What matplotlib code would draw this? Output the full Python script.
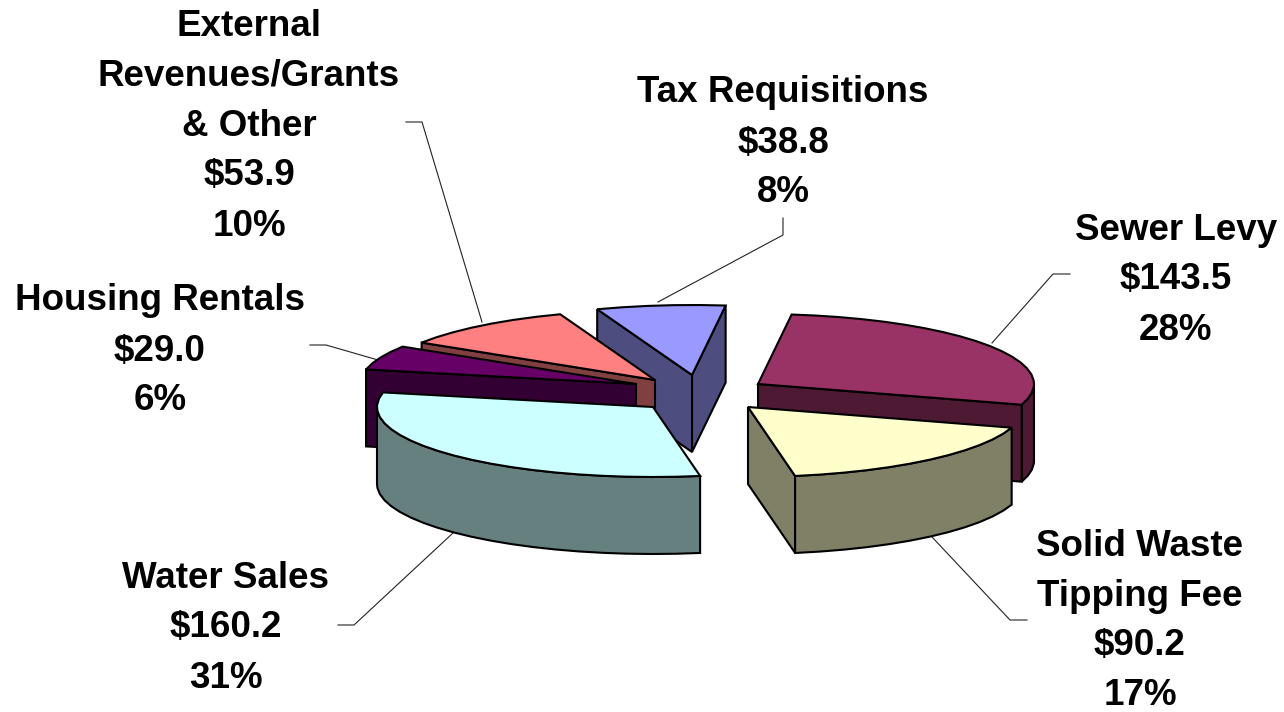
import numpy as np
import matplotlib
matplotlib.use("Agg")
import matplotlib.pyplot as plt

plt.rcParams['font.family'] = ['Liberation Sans', 'DejaVu Sans']

### data, clockwise from the top right
categories = ["Sewer Levy", "Solid Waste\nTipping Fee", "Water Sales", "Housing Rentals",
              "External\nRevenues/Grants\n& Other", "Tax Requisitions"]
amounts = [143.5, 90.2, 160.2, 29.0, 53.9, 38.8]
percents = [28, 17, 31, 6, 10, 8]
top_colors = ["#993366", "#FFFFCC", "#CCFFFF", "#660066", "#FF8080", "#9999FF"]
side_colors = ["#4D1933", "#808066", "#668080", "#330033", "#804040", "#4D4D80"]

### layout in pixels
start_angle = -83.0
radius_x, radius_y, depth = 276, 70, 77
apex = [(758, 384), (748, 407), (653, 407), (636, 384), (655, 380), (692, 375)]
draw_order = [5, 4, 3, 2, 0, 1]
label_pos = [(1176, 230), (1140, 547), (226, 578), (160, 301), (249, 26), (783, 93)]
line_step = [50, 49.5, 50, 50, 50, 50]
leaders = [[(1070, 274), (1053, 274), (992, 343)],
           [(932, 537), (1010, 620), (1027, 620)],
           [(453, 533), (354, 625), (338, 625)],
           [(310, 345), (326, 345), (378, 360)],
           [(406, 122), (422, 122), (482, 322)],
           [(783, 218), (783, 235), (658, 302)]]


def draw_slice(ax, center, a0, a1, top, side):
    angles = np.linspace(a0, a1, max(int((a1 - a0) / 5), 3) + 1)
    # the silhouette points have to be on the arc
    for a in (0, 180):
        if a0 < a < a1:
            angles = np.union1d(angles, a)
    t = np.radians(angles)
    xs = center[0] + radius_x * np.cos(t)
    ys = center[1] + radius_y * np.sin(t)
    px = np.r_[center[0], xs]
    py = np.r_[center[1], ys]

    # a wall faces the viewer when its edge runs leftwards
    walls = []
    for i, j in [(0, 1), (len(px) - 1, 0)]:
        if px[j] < px[i]:
            walls.append((px[[i, j]], py[[i, j]]))
    front = np.where(np.diff(xs) < 0)[0]
    if len(front):
        idx = np.r_[front, front[-1] + 1]
        walls.append((xs[idx], ys[idx]))
    walls.sort(key=lambda w: np.mean(w[1]))

    for wx, wy in walls:
        ax.fill(np.r_[wx, wx[::-1]], np.r_[wy, wy[::-1] + depth], facecolor=side, edgecolor="black",
                lw=1.5, zorder=ax.zcount)
        ax.zcount += 1
    ax.fill(px, py, facecolor=top, edgecolor="black", lw=1.5, zorder=ax.zcount)
    ax.zcount += 1


fig = plt.figure(figsize=(12.84, 7.12), dpi=100)
ax = fig.add_axes([0, 0, 1, 1])
ax.set_xlim(0, 1284)
ax.set_ylim(712, 0)
ax.axis("off")
ax.zcount = 3

sweeps = 360 * np.array(amounts) / sum(amounts)
edges = start_angle + np.r_[0, np.cumsum(sweeps)]

for line in leaders:
    ax.plot([p[0] for p in line], [p[1] for p in line], color="#222222", lw=0.8, zorder=2)

for k in draw_order:
    draw_slice(ax, apex[k], edges[k], edges[k + 1], top_colors[k], side_colors[k])

for k in range(len(categories)):
    lines = categories[k].split("\n") + [f"${amounts[k]:.1f}", f"{percents[k]}%"]
    x, y = label_pos[k]
    for i, txt in enumerate(lines):
        ax.text(x, y + i * line_step[k], txt, ha="center", va="center", fontsize=26.5, fontweight="bold", color="black")

fig.savefig("out.png", dpi=100)
